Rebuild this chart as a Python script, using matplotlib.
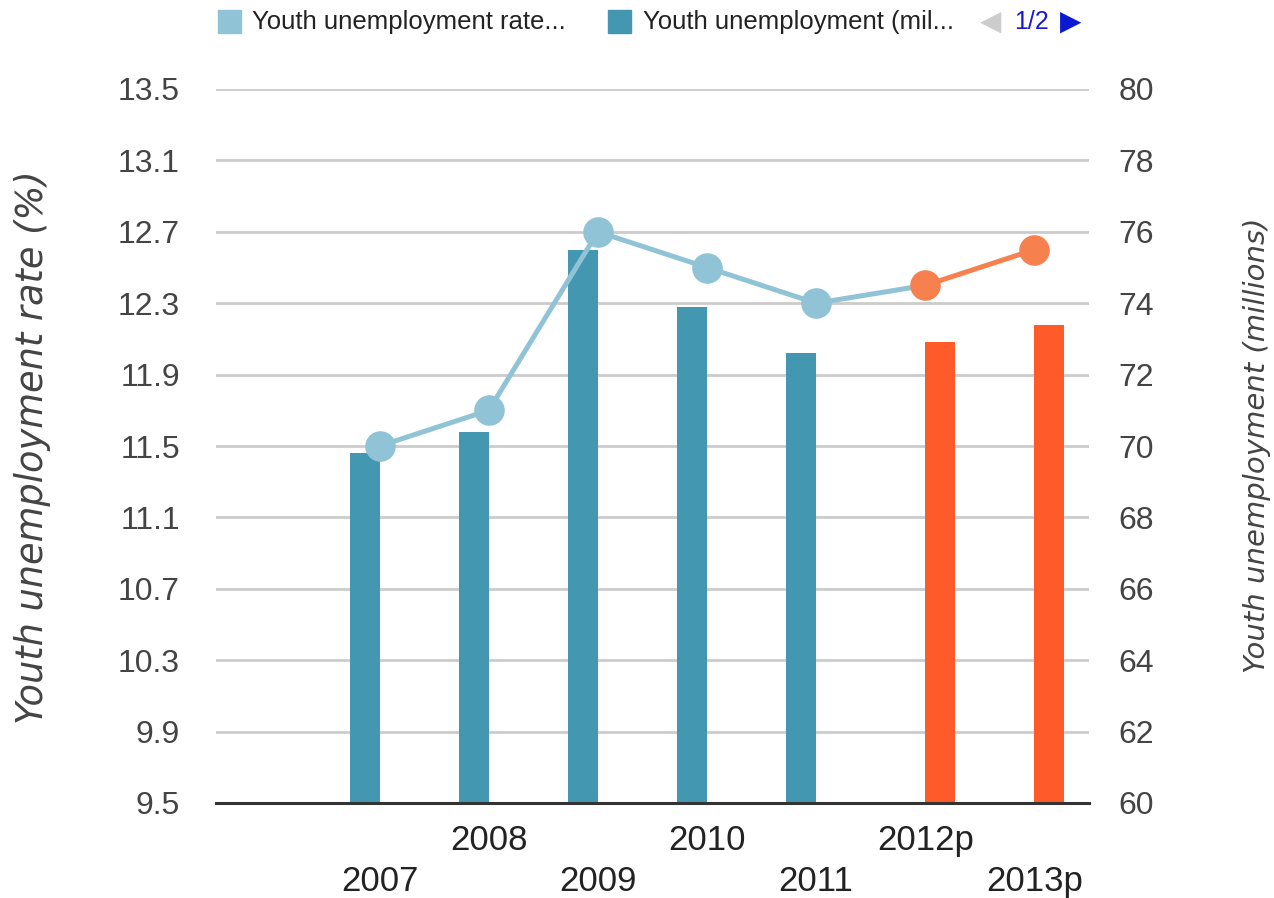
import numpy as np
import matplotlib
matplotlib.use("Agg")
import matplotlib.pyplot as plt
from matplotlib.patches import Rectangle

# ---- data ----
years = ["2007", "2008", "2009", "2010", "2011", "2012p", "2013p"]
projected = [False, False, False, False, False, True, True]
rate_pct = [11.5, 11.7, 12.7, 12.5, 12.3, 12.4, 12.6]          # left axis, line
unemployed_mil = [69.8, 70.4, 75.5, 73.9, 72.6, 72.9, 73.4]     # right axis, bars

rate_ticks = [9.5, 9.9, 10.3, 10.7, 11.1, 11.5, 11.9, 12.3, 12.7, 13.1, 13.5]
mil_ticks = [60, 62, 64, 66, 68, 70, 72, 74, 76, 78, 80]

series_names = ["Youth unemployment rate...", "Youth unemployment (mil..."]

# ---- style ----
LINE_BLUE = "#8fc3d5"
LINE_ORANGE = "#f7804f"
BAR_TEAL = "#4497b0"
BAR_ORANGE = "#ff5a29"
GRID = "#cccccc"
TICK_COL = "#444444"
FONT = "Liberation Sans"

W, H = 1274, 898
fig = plt.figure(figsize=(W / 100, H / 100), dpi=100)
left, right, top, bottom = 216, 1089, 89, 803
ax = fig.add_axes([left / W, 1 - bottom / H, (right - left) / W, (bottom - top) / H])
ax2 = ax.twinx()
ax.set_zorder(ax2.get_zorder() + 1)
ax.patch.set_visible(False)

x = np.arange(1, len(years) + 1)
bw = 0.275
actual = np.array([not p for p in projected])
proj = np.array(projected)
vals = np.array(unemployed_mil)
rates = np.array(rate_pct)

# bars (right axis): actual left of slot centre, projections right of it
ax2.bar(x[actual] - bw / 2, vals[actual], width=bw, color=BAR_TEAL, zorder=3)
ax2.bar(x[proj] + bw / 2, vals[proj], width=bw, color=BAR_ORANGE, zorder=3)
ax2.set_ylim(60, 80)
ax2.set_yticks(mil_ticks)
ax2.set_yticklabels([str(t) for t in mil_ticks], fontsize=23, color=TICK_COL, family=FONT)
ax2.grid(True, axis="y", color=GRID, linewidth=2)
ax2.set_axisbelow(True)
ax2.tick_params(axis="y", length=0, pad=21)

# line (left axis)
first_proj = np.where(proj)[0][0]
ax.plot(x[:first_proj + 1], rates[:first_proj + 1], color=LINE_BLUE, lw=3.6, zorder=3)
ax.plot(x[first_proj:], rates[first_proj:], color=LINE_ORANGE, lw=3.6, zorder=3)
ax.plot(x[actual], rates[actual], "o", ms=21, color=LINE_BLUE, zorder=4)
ax.plot(x[proj], rates[proj], "o", ms=21, color=LINE_ORANGE, zorder=4)
ax.set_ylim(9.5, 13.5)
ax.set_yticks(rate_ticks)
ax.set_yticklabels([f"{t:.1f}" for t in rate_ticks], fontsize=23, color=TICK_COL, family=FONT)
ax.tick_params(axis="y", length=0, pad=26)

ax.set_xlim(-0.5, len(years) + 0.5)
ax.set_xticks(x)
ax.set_xticklabels([y if i % 2 else "\n" + y for i, y in enumerate(years)],
                   fontsize=25, color="#222222", family=FONT, linespacing=1.3)
ax.tick_params(axis="x", length=0, pad=15)

for a in (ax, ax2):
    for s in ("top", "left", "right", "bottom"):
        a.spines[s].set_visible(False)
ax.spines["bottom"].set_visible(True)
ax.spines["bottom"].set_color("#333333")
ax.spines["bottom"].set_linewidth(2.2)

# axis titles
fig.text(33 / W, 1 - 447 / H, "Youth unemployment rate (%)", rotation=90,
         ha="center", va="center", fontsize=26.5, style="italic", color=TICK_COL,
         family="DejaVu Sans")
fig.text(1257 / W, 1 - 445 / H, "Youth unemployment (millions)", rotation=90,
         ha="center", va="center", fontsize=21, style="italic", color=TICK_COL,
         family="DejaVu Sans")

# legend (paged, as in the source)
ly = 22
for sx, tx, col, name in [(218, 252, LINE_BLUE, series_names[0]),
                          (608, 643, BAR_TEAL, series_names[1])]:
    fig.patches.append(Rectangle((sx / W, 1 - (ly + 11) / H), 23 / W, 23 / H,
                                 transform=fig.transFigure, color=col))
    fig.text(tx / W, 1 - ly / H, name, ha="left", va="center", fontsize=18.5,
             color="#222222", family=FONT)
fig.text(991 / W, 1 - ly / H, "\u25C0", ha="center", va="center", fontsize=20,
         color="#cccccc", family="DejaVu Sans")
fig.text(1031 / W, 1 - ly / H, "1/2", ha="center", va="center", fontsize=18,
         color="#1a1acc", family=FONT)
fig.text(1071 / W, 1 - ly / H, "\u25B6", ha="center", va="center", fontsize=20,
         color="#0a1ad0", family="DejaVu Sans")

fig.savefig("out.png", dpi=100)
